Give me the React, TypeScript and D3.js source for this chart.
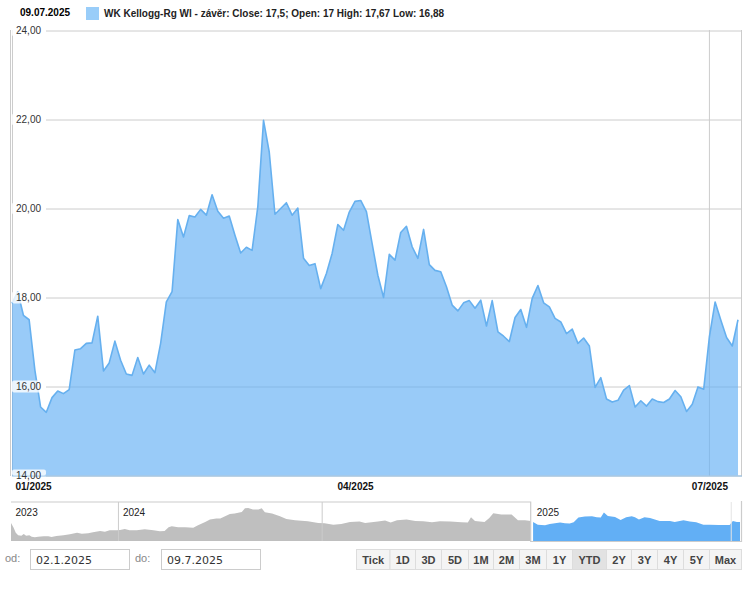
import { useEffect, useRef } from 'react';
import * as d3 from 'd3';

const closes = [
  17.87, 18.13, 17.6, 17.5, 16.37, 15.54, 15.42, 15.75, 15.9, 15.84, 15.93, 16.82, 16.85, 16.97, 16.98, 17.58,
  16.35, 16.53, 17.02, 16.59, 16.28, 16.25, 16.65, 16.28, 16.48, 16.31, 16.97, 17.9, 18.13, 19.75, 19.36, 19.84,
  19.81, 19.98, 19.85, 20.31, 19.94, 19.78, 19.83, 19.4, 19.0, 19.13, 19.06, 20.04, 21.98, 21.27, 19.87, 20.0,
  20.13, 19.85, 20.01, 18.88, 18.72, 18.76, 18.2, 18.54, 18.99, 19.64, 19.51, 19.92, 20.16, 20.18, 19.93, 19.21,
  18.5, 18.0, 18.97, 18.84, 19.46, 19.6, 19.14, 18.88, 19.53, 18.74, 18.61, 18.58, 18.24, 17.83, 17.7, 17.88,
  17.93, 17.76, 17.94, 17.36, 17.93, 17.23, 17.13, 17.01, 17.55, 17.73, 17.33, 17.98, 18.27, 17.88, 17.79, 17.53,
  17.45, 17.19, 17.29, 16.97, 17.09, 16.91, 15.98, 16.2, 15.72, 15.65, 15.69, 15.92, 16.02, 15.54, 15.68, 15.56,
  15.72, 15.66, 15.64, 15.72, 15.91, 15.77, 15.44, 15.6, 15.99, 15.94, 17.12, 17.9, 17.49, 17.1, 16.91, 17.5,
];
const priceTicks = [14, 16, 18, 20, 22, 24];
const monthIndex = [0, 60, 122];
const monthLabels = ['01/2025', '04/2025', '07/2025'];

// navigator: weeks since the start of the history, close at that week
const navWeeks = [
  0, 0.3, 0.6, 0.9, 1.3, 1.6, 1.9, 2.3, 2.6, 3, 3.4, 4.1, 4.7, 5.1, 5.7, 6.6, 7.4, 8.3, 8.9, 9.7, 10.3, 11.2, 11.8,
  12.4, 13.3, 13.7, 14.3, 14.9, 15.8, 16.8, 17.9, 18.7, 19.3, 19.8, 20.2, 21, 21.9, 22.9, 23.5, 24.4, 25, 25.8,
  26.3, 26.9, 27.5, 28.1, 29, 29.4, 29.8, 30.4, 31.1, 31.5, 31.9, 32.8, 33.8, 34.6, 35.7, 37.3, 38.6, 39.4, 40.5,
  41.5, 42.6, 43.8, 44.5, 45.3, 46.1, 47, 47.7, 48.5, 49.7, 50.8, 51.8, 52.9, 53.9, 55.2, 56.6, 57.4, 57.8, 58.3,
  59.5, 60.1, 60.6, 61.6, 62.9, 63.7, 64.6, 65.3,
];
const navCloses = [
  16.64, 14.32, 11.46, 10.04, 9.86, 10.75, 9.86, 10.04, 9.32, 8.96, 9.32, 9.5, 9.5, 9.14, 9.68, 10.04, 10.57, 11.46,
  10.93, 11.11, 11.64, 12.36, 12.0, 12.71, 12.71, 12.89, 13.43, 12.71, 12.71, 13.25, 12.71, 12.18, 12.36, 14.32,
  14.86, 14.32, 14.32, 14.14, 15.39, 17.18, 18.43, 18.96, 18.96, 20.21, 21.46, 21.64, 22.54, 24.5, 24.68, 23.79,
  23.79, 24.5, 22.36, 21.64, 20.21, 18.79, 18.07, 17.54, 16.64, 16.46, 15.75, 16.11, 17.18, 17.36, 16.64, 17.0,
  17.36, 17.89, 16.82, 18.07, 18.43, 17.71, 17.54, 17.0, 17.54, 17.36, 17.0, 16.82, 19.68, 17.71, 17.18, 19.32,
  21.82, 21.11, 21.11, 18.07, 18.07, 17.71,
];
const ytdWeeks = [
  65.6, 66.2, 67.1, 67.7, 69, 69.6, 70.2, 70.7, 71.3, 72.1, 73, 73.6, 74.1, 74.5, 75, 75.9, 76.6, 77.3, 78, 78.4,
  78.9, 79.6, 80.3, 80.9, 81.5, 82.8, 83.4, 84.5, 85.3, 86.1, 87, 87.8, 88.9, 90.3, 90.7, 91.2, 91.6,
];
const ytdCloses = [
  17.18, 15.75, 15.39, 16.11, 16.82, 16.46, 16.29, 17.0, 19.5, 20.04, 20.21, 19.68, 19.5, 22.18, 20.39, 19.86, 18.25,
  19.68, 20.21, 19.68, 18.43, 19.68, 19.32, 18.43, 17.71, 17.71, 17.18, 18.07, 17.36, 17.0, 15.75, 15.75, 15.57,
  15.57, 17.71, 17.18, 17.18,
];
const navYears = ['2023', '2024', '2025'];
const navYearWeeks = [0, 13.5, 65.5];
const navMarkWeeks = [13.5, 39.1, 90.5];

const rangeLabels = ['Tick', '1D', '3D', '5D', '1M', '2M', '3M', '1Y', 'YTD', '2Y', '3Y', '4Y', '5Y', 'Max'];
const rangeEdges = [356, 389.5, 415, 441, 468, 493, 519, 546, 572, 606, 631, 657, 683, 709, 741];

const SANS = '"Liberation Sans", Arial, sans-serif';

const App = () => {
  const svgRef = useRef<SVGSVGElement>(null!);

  useEffect(() => {
    const svg = d3.select(svgRef.current);
    svg.selectAll('*').remove();

    const x = d3.scaleLinear().domain([0, closes.length - 1]).range([12, 738]);
    const y = d3.scaleLinear().domain([14, 24]).range([475.5, 30.5]);

    // header
    svg.append('text').attr('x', 20).attr('y', 16).attr('font-weight', 700).text('09.07.2025');
    svg.append('rect').attr('x', 86).attr('y', 7).attr('width', 13).attr('height', 13).attr('fill', '#99cdf9');
    svg
      .append('text')
      .attr('x', 104)
      .attr('y', 17)
      .attr('font-weight', 700)
      .attr('fill', '#222')
      .text('WK Kellogg-Rg Wl - závěr: Close: 17,5; Open: 17 High: 17,67 Low: 16,88');

    // grid
    const yAxis = d3
      .axisRight(y)
      .tickValues(priceTicks)
      .tickSize(742 - 46)
      .tickFormat(d => d3.format('.2f')(d as number).replace('.', ','));
    const yG = svg.append('g').attr('transform', 'translate(46,0)').call(yAxis);
    yG.select('.domain').remove();
    yG.selectAll('line').attr('stroke', '#ccc');
    yG.selectAll('text').remove();

    const frame = [
      [10.5, 30, 10.5, 476],
      [12.5, 30, 12.5, 476],
      [741.5, 30, 741.5, 476],
      [x(monthIndex[2]), 30, x(monthIndex[2]), 476],
    ];
    svg
      .selectAll('line.frame')
      .data(frame)
      .enter()
      .append('line')
      .attr('class', 'frame')
      .attr('x1', d => d[0])
      .attr('y1', d => d[1])
      .attr('x2', d => d[2])
      .attr('y2', d => d[3])
      .attr('stroke', '#ccc');

    // price area
    const area = d3
      .area<number>()
      .x((_, i) => x(i))
      .y0(y(14))
      .y1(d => y(d));
    const line = d3
      .line<number>()
      .x((_, i) => x(i))
      .y(d => y(d));
    svg.append('path').attr('d', area(closes)).attr('fill', '#62aff5').attr('fill-opacity', 0.65);
    svg
      .append('path')
      .attr('d', line(closes))
      .attr('fill', 'none')
      .attr('stroke', '#66b0ef')
      .attr('stroke-width', 1.6)
      .attr('stroke-linejoin', 'round');
    svg.append('line').attr('x1', 12).attr('x2', 742).attr('y1', 476).attr('y2', 476).attr('stroke', '#8fbfe6');

    // price labels sit on a pale plate above the area
    const labels = svg.append('g').selectAll('g').data(priceTicks).enter().append('g');
    labels
      .append('rect')
      .attr('x', 12)
      .attr('y', d => y(d) - 6)
      .attr('width', 34)
      .attr('height', d => (d === 14 ? 6 : 12))
      .attr('rx', 2)
      .attr('fill', '#fff')
      .attr('fill-opacity', 0.8);
    labels
      .append('text')
      .attr('x', 16)
      .attr('y', d => y(d) + 3.5)
      .attr('fill', '#333')
      .text(d => d3.format('.2f')(d).replace('.', ','));

    // month axis
    const xAxis = d3
      .axisBottom(x)
      .tickValues(monthIndex)
      .tickSize(0)
      .tickPadding(0)
      .tickFormat((_, i) => monthLabels[i]);
    const xG = svg.append('g').attr('transform', 'translate(0,482.5)').call(xAxis);
    xG.select('.domain').remove();
    xG.selectAll('text')
      .attr('font-family', SANS)
      .attr('font-size', 10)
      .attr('font-weight', 700)
      .attr('fill', '#111')
      .attr('dy', '0.71em')
      .attr('text-anchor', (_, i) => (i === 0 ? 'start' : 'middle'))
      .attr('dx', (_, i) => (i === 0 ? 3 : 0));

    // navigator
    const navX = d3.scaleLinear().domain([0, 91.6]).range([11, 740]);
    const navY = d3.scaleLinear().domain([7, 28]).range([541, 501.7]);
    const navArea = d3
      .area<number>()
      .x((_, i) => 0)
      .y0(navY(7))
      .y1(d => navY(d));
    svg
      .append('path')
      .attr('d', navArea.x((_, i) => navX(navWeeks[i]))(navCloses))
      .attr('fill', '#bfbfbf');
    svg
      .append('path')
      .attr('d', navArea.x((_, i) => navX(ytdWeeks[i]))(ytdCloses))
      .attr('fill', '#62aff5');

    svg
      .selectAll('line.navmark')
      .data(navMarkWeeks)
      .enter()
      .append('line')
      .attr('class', 'navmark')
      .attr('x1', d => navX(d))
      .attr('x2', d => navX(d))
      .attr('y1', 502)
      .attr('y2', 541)
      .attr('stroke', (_, i) => (i === 2 ? '#e4e4e4' : '#ccc'));
    const selLeft = navX(65.3);
    svg
      .append('path')
      .attr('d', `M11,502H${selLeft}V541.5H741.5V501`)
      .attr('fill', 'none')
      .attr('stroke', '#ccc')
      .attr('stroke-width', 1.2);
    svg
      .selectAll('text.navyear')
      .data(navYears)
      .enter()
      .append('text')
      .attr('class', 'navyear')
      .attr('x', (_, i) => navX(navYearWeeks[i]) + 4.5)
      .attr('y', 515.5)
      .attr('fill', '#222')
      .text(d => d);

    // date inputs
    const inputs = [
      { label: 'od:', labelX: 5, boxX: 30.5, value: '02.1.2025' },
      { label: 'do:', labelX: 135, boxX: 161.5, value: '09.7.2025' },
    ];
    inputs.forEach(inp => {
      svg
        .append('text')
        .attr('x', inp.labelX)
        .attr('y', 562)
        .attr('font-size', 11)
        .attr('fill', '#888')
        .text(inp.label);
      svg
        .append('rect')
        .attr('x', inp.boxX)
        .attr('y', 549.5)
        .attr('width', 99)
        .attr('height', 20)
        .attr('fill', '#fff')
        .attr('stroke', '#ccc');
      svg
        .append('text')
        .attr('x', inp.boxX + 5.5)
        .attr('y', 564)
        .attr('font-family', '"DejaVu Sans", Verdana, sans-serif')
        .attr('font-size', 11)
        .attr('fill', '#333')
        .text(inp.value);
    });

    // range buttons
    const buttons = svg.selectAll('g.range').data(rangeLabels).enter().append('g').attr('class', 'range');
    buttons
      .append('rect')
      .attr('x', (_, i) => rangeEdges[i] + 0.5)
      .attr('y', 549.5)
      .attr('width', (_, i) => rangeEdges[i + 1] - rangeEdges[i])
      .attr('height', 20)
      .attr('fill', d => (d === 'YTD' ? '#e2e2e2' : '#f4f4f4'))
      .attr('stroke', '#ddd');
    buttons
      .append('text')
      .attr('x', (_, i) => (rangeEdges[i] + rangeEdges[i + 1]) / 2 + 0.5)
      .attr('y', 563.5)
      .attr('text-anchor', 'middle')
      .attr('font-size', 11)
      .attr('font-weight', 700)
      .attr('fill', '#444')
      .text(d => d);
  }, []);

  return (
    <svg
      ref={svgRef}
      width={754}
      height={594}
      fontFamily={SANS}
      fontSize={10}
      style={{ position: 'absolute', left: 0, top: 0, display: 'block', background: '#fff' }}
    ></svg>
  );
};

export default App;
